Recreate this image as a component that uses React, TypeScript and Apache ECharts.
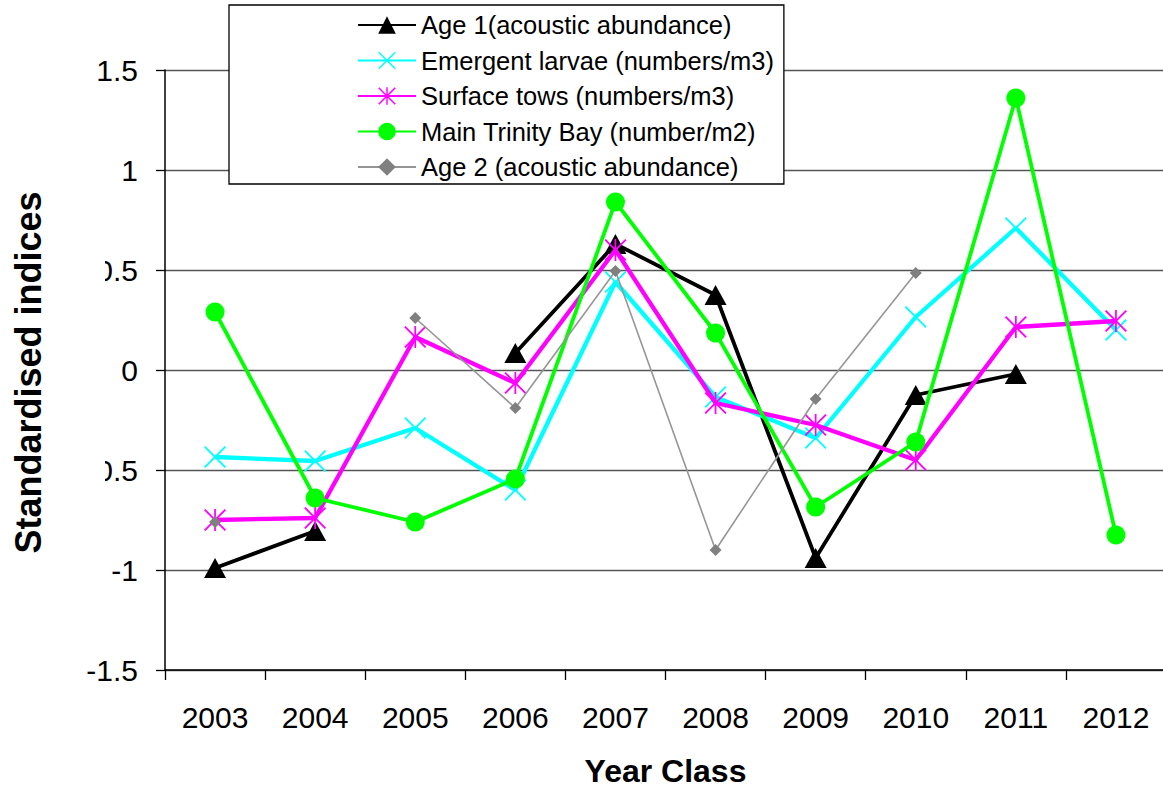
import React, { useEffect, useRef } from "react";
import * as echarts from "echarts";

const years = ["2003", "2004", "2005", "2006", "2007", "2008", "2009", "2010", "2011", "2012"];
const age1 = [-0.99, -0.805, null, 0.085, 0.63, 0.375, -0.94, -0.125, -0.02, null];
const emergent = [-0.435, -0.455, -0.29, -0.6, 0.44, -0.135, -0.34, 0.265, 0.71, 0.2];
const surface = [-0.75, -0.74, 0.165, -0.065, 0.6, -0.165, -0.275, -0.45, 0.215, 0.245];
const trinity = [0.29, -0.64, -0.76, -0.545, 0.84, 0.185, -0.685, -0.36, 1.36, -0.825];
const age2 = [-0.76, null, 0.26, -0.19, 0.495, -0.9, -0.145, 0.485, null, null];

const seriesNames = [
  "Age 1(acoustic abundance)",
  "Emergent larvae (numbers/m3)",
  "Surface tows (numbers/m3)",
  "Main Trinity Bay (number/m2)",
  "Age 2 (acoustic abundance)",
];

const FONT = "'Liberation Sans', Arial, sans-serif";
const CROSS = "path://M0 6L6 0L50 44L94 0L100 6L56 50L100 94L94 100L50 56L6 100L0 94L44 50Z";
const STAR = CROSS + "M46 0L54 0L54 100L46 100Z";

export default function App() {
  const ref = useRef<HTMLDivElement>(null);
  useEffect(() => {
    if (!ref.current) return;
    const chart = echarts.init(ref.current, undefined, { renderer: "svg" });
    const mk = (name: string, data: (number | null)[], color: string, width: number, symbol: string, size: any, z: number) => ({
      name,
      type: "line",
      data,
      connectNulls: false,
      symbol,
      symbolSize: size,
      showSymbol: true,
      z,
      lineStyle: { color, width },
      itemStyle: { color, borderWidth: 0 },
      emphasis: { disabled: true },
    });
    chart.setOption({
      animation: false,
      backgroundColor: "#ffffff",
      textStyle: { fontFamily: FONT },
      grid: { left: 165, right: 1, top: 70, bottom: 118, containLabel: false },
      xAxis: {
        type: "category",
        data: years,
        boundaryGap: true,
        axisLine: { show: true, onZero: false, lineStyle: { color: "#000", width: 1.5 } },
        axisTick: { show: true, length: 10, inside: false, lineStyle: { color: "#000", width: 1.3 } },
        axisLabel: { color: "#000", fontSize: 30, fontFamily: FONT, margin: 32, interval: 0 },
        splitLine: { show: false },
      },
      yAxis: {
        type: "value",
        min: -1.5,
        max: 1.5,
        interval: 0.5,
        axisLine: { show: true, lineStyle: { color: "#000", width: 1.5 } },
        axisTick: { show: true, length: 9, inside: false, lineStyle: { color: "#000", width: 1.3 } },
        axisLabel: { color: "#000", fontSize: 30, fontFamily: FONT, margin: 27 },
        splitLine: { show: true, lineStyle: { color: "#555", width: 1.4 } },
      },
      legend: {
        orient: "vertical",
        left: 229,
        top: 5,
        padding: [7, 10, 4, 128],
        itemWidth: 58,
        itemHeight: 22,
        itemGap: 9.5,
        backgroundColor: "#fff",
        borderColor: "#000",
        borderWidth: 1.3,
        selectedMode: false,
        data: seriesNames,
        textStyle: { color: "#000", fontSize: 25.5, fontFamily: FONT },
        z: 10,
      },
      graphic: [
        { type: "rect", z: 50, shape: { x: 0, y: 188, width: 105, height: 368 }, style: { fill: "#fff" } },
        {
          type: "text",
          z: 51,
          x: 28,
          y: 372.5,
          rotation: Math.PI / 2,
          style: {
            text: "Standardised indices",
            font: `bold 36px ${FONT}`,
            fill: "#000",
            textAlign: "center",
            textVerticalAlign: "middle",
          },
        },
        {
          type: "text",
          z: 51,
          x: 665.5,
          y: 771,
          style: {
            text: "Year Class",
            font: `bold 32px ${FONT}`,
            fill: "#000",
            textAlign: "center",
            textVerticalAlign: "middle",
          },
        },
      ],
      series: [
        mk(seriesNames[0], age1, "#000000", 3.8, "triangle", [22, 20], 2),
        mk(seriesNames[1], emergent, "#00FFFF", 4.3, CROSS, 22, 3),
        mk(seriesNames[2], surface, "#FF00FF", 4.3, STAR, 22, 4),
        mk(seriesNames[3], trinity, "#00FF00", 3.8, "circle", 19, 5),
        {
          ...mk(seriesNames[4], age2, "#969696", 1.6, "diamond", 12, 6),
          itemStyle: { color: "#808080", borderWidth: 0 },
        },
      ],
    });
    return () => chart.dispose();
  }, []);
  return <div ref={ref} style={{ position: "fixed", left: 0, top: 0, width: 1167, height: 788 }} />;
}
